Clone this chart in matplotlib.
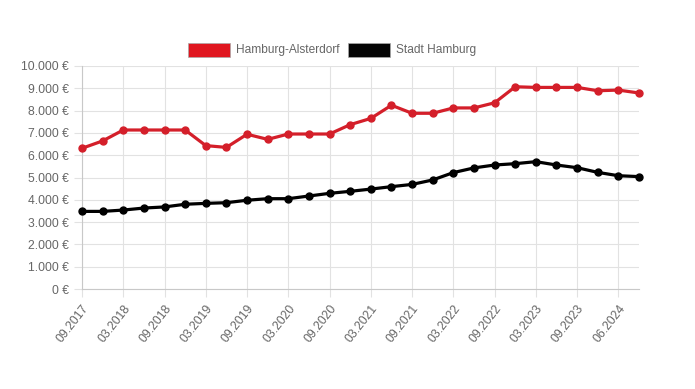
import matplotlib.pyplot as plt
from matplotlib.patches import Rectangle
from matplotlib.ticker import FuncFormatter

plt.rcParams['font.family'] = ['Liberation Sans', 'DejaVu Sans']

# quarterly dates (03.2024 is not in the series)
labels = ['09.2017', '12.2017', '03.2018', '06.2018', '09.2018', '12.2018',
          '03.2019', '06.2019', '09.2019', '12.2019', '03.2020', '06.2020',
          '09.2020', '12.2020', '03.2021', '06.2021', '09.2021', '12.2021',
          '03.2022', '06.2022', '09.2022', '12.2022', '03.2023', '06.2023',
          '09.2023', '12.2023', '06.2024', '09.2024']

alsterdorf = [6310, 6640, 7130, 7130, 7130, 7130, 6430, 6350, 6940, 6710,
              6950, 6950, 6950, 7370, 7650, 8240, 7880, 7880, 8120, 8120,
              8350, 9070, 9040, 9040, 9040, 8890, 8920, 8790]
hamburg = [3480, 3480, 3540, 3630, 3680, 3800, 3840, 3870, 3980, 4050,
           4050, 4170, 4290, 4380, 4480, 4590, 4690, 4890, 5220, 5430,
           5560, 5620, 5710, 5560, 5440, 5230, 5080, 5040]

red = '#d41f2a'
grey_text = '#666666'
grid_col = '#e2e2e2'

fig = plt.figure(figsize=(6.95, 3.89), dpi=100)
ax = fig.add_axes([82 / 695, 100 / 389, 557 / 695, 223 / 389])

x = list(range(len(labels)))
ax.plot(x, alsterdorf, color=red, lw=2.3, marker='o', ms=5, zorder=3, clip_on=False)
ax.plot(x, hamburg, color='black', lw=2.3, marker='o', ms=5, zorder=3, clip_on=False)

ax.set_xlim(0, len(labels) - 1)
ax.set_ylim(0, 10000)
ax.set_yticks(range(0, 10001, 1000))
ax.yaxis.set_major_formatter(FuncFormatter(lambda v, p: f'{int(v):,} €'.replace(',', '.')))

ax.set_xticks(x[::2])
ax.set_xticklabels(labels[::2], rotation=52, ha='right', rotation_mode='anchor')

ax.grid(True, color=grid_col, lw=0.8)
ax.set_axisbelow(True)
for s in ['top', 'right']:
    ax.spines[s].set_visible(False)
for s in ['left', 'bottom']:
    ax.spines[s].set_color('#c8c8c8')
ax.tick_params(colors=grey_text, labelsize=8.7, length=6, width=0.8)
ax.tick_params(axis='both', color=grid_col)

# legend boxes like chart.js
items = [(188, '#e0161f', 'Hamburg-Alsterdorf'), (348, '#050505', 'Stadt Hamburg')]
for px, col, txt in items:
    fig.patches.append(Rectangle((px / 695, 1 - 57 / 389), 42 / 695, 14 / 389,
                                 transform=fig.transFigure, facecolor=col,
                                 edgecolor='#aaaaaa', lw=0.5))
    fig.text((px + 48) / 695, 1 - 50 / 389, txt, color=grey_text, fontsize=8.6,
             va='center', ha='left')

fig.savefig('out.png', dpi=100)
